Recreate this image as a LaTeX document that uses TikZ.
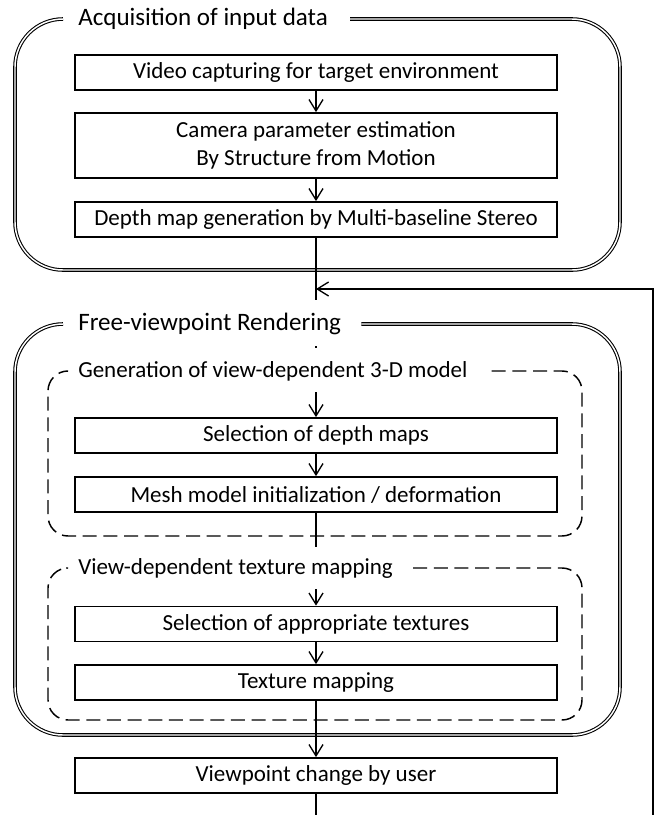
\documentclass[tikz,border=0pt]{standalone}
\usepackage{fontspec}
\setmainfont{Carlito}
\usetikzlibrary{arrows.meta,calc}
\begin{document}
\begin{tikzpicture}[x=0.75pt,y=-0.75pt,
 every node/.style={font=\fontsize{17.25}{21.5}\selectfont},
 stepbox/.style={draw, line width=1.3pt, minimum width=361.5pt, minimum height=26.25pt, inner sep=0pt, align=center},
 ttl/.style={anchor=west, inner sep=0pt},
 bigttl/.style={ttl, font=\fontsize{18.8}{22}\selectfont},
 conn/.style={line width=1pt},
 arr/.style={conn, -{Straight Barb[length=8.5pt,width=10.5pt]}},
 outer/.style={double, line width=0.8pt, double distance=1.1pt, rounded corners=36pt},
 dbox/.style={line width=1.1pt, dash pattern=on 10.5pt off 5pt, rounded corners=15pt},
]
\useasboundingbox (0,0) rectangle (656,815);

% --- Acquisition of input data
\node[bigttl] (tA) at (78,19) {Acquisition of input data};
\draw[outer] ($(tA.east)+(22,0)$) -- (620,19) -- (620,270) -- (15,270) -- (15,19) -- ($(tA.west)+(-15,0)$);
\node[stepbox] (n1) at (316,72.5) {Video capturing for target environment};
\node[stepbox, minimum height=48.75pt] (n2) at (316,145.5) {Camera parameter estimation\\By Structure from Motion};
\node[stepbox] (n3) at (316,219.5) {Depth map generation by Multi-baseline Stereo};

% --- Free-viewpoint Rendering
\node[bigttl] (tB) at (78,324) {Free-viewpoint Rendering};
\draw[outer] ($(tB.east)+(20,0)$) -- (620,324) -- (620,735) -- (15,735) -- (15,324) -- ($(tB.west)+(-15,0)$);

% dashed group 1
\node[ttl] (tC) at (78,371) {Generation of view-dependent 3-D model};
\draw[dbox] ($(tC.east)+(24,0)$) -- (582,371) -- (582,536) -- (48,536) -- (48,371) -- ($(tC.west)+(-12,0)$);
\node[stepbox] (n4) at (316,435.5) {Selection of depth maps};
\node[stepbox] (n5) at (316,494.5) {Mesh model initialization / deformation};

% dashed group 2
\node[ttl] (tD) at (78,568) {View-dependent texture mapping};
\draw[dbox] ($(tD.east)+(20,0)$) -- (582,568) -- (582,720) -- (48,720) -- (48,568) -- ($(tD.west)+(-12,0)$);
\node[stepbox] (n6) at (316,624) {Selection of appropriate textures};
\node[stepbox] (n7) at (316,682.5) {Texture mapping};

\node[stepbox] (n8) at (316,775.5) {Viewpoint change by user};

% --- connectors
\draw[arr] (n1) -- (n2);
\draw[arr] (n2) -- (n3);
\coordinate (c1) at (316,300);
\draw[conn] (n3) -- (c1);
\coordinate (fb0) at (653,815);
\coordinate (fb1) at (653,289);
\coordinate (m1) at (316,289);
\draw[arr] (fb0) -- (fb1) -- (m1);
\coordinate (d0) at (316,346);
\coordinate (d1) at (316,348);
\draw[conn] (d0) -- (d1);
\coordinate (c2) at (316,392);
\draw[arr] (c2) -- (n4);
\draw[arr] (n4) -- (n5);
\coordinate (c3) at (316,547);
\draw[conn] (n5) -- (c3);
\coordinate (c4) at (316,589);
\draw[arr] (c4) -- (n6);
\draw[arr] (n6) -- (n7);
\draw[arr] (n7) -- (n8);
\coordinate (c5) at (316,815);
\draw[conn] (n8) -- (c5);
\end{tikzpicture}
\end{document}
